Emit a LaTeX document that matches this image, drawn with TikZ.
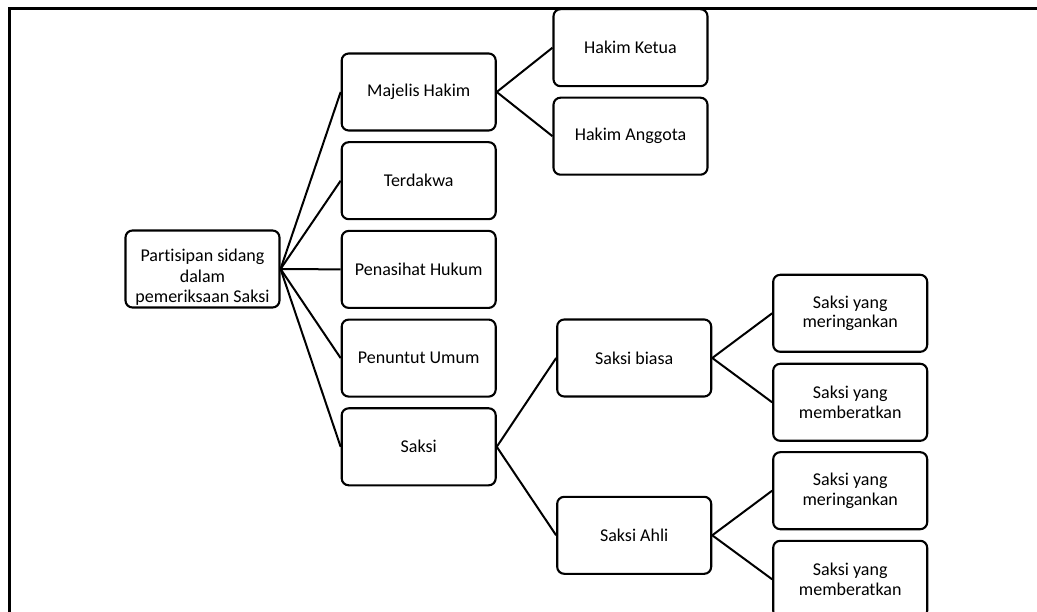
\documentclass[tikz,border=0pt]{standalone}
\usepackage{fontspec}
\setmainfont{Carlito}[Ligatures=NoCommon]
\begin{document}
\begin{tikzpicture}[x=1pt,y=-1pt,
  boxfont/.style={font=\fontsize{18}{19.5}\selectfont},
  box/.style={draw=black, line width=2.1pt, rounded corners=7pt, minimum width=154pt, minimum height=77pt, align=center, inner sep=2pt, boxfont},
  txt/.style={align=center, inner sep=0pt, font=\fontsize{18}{20.5}\selectfont},
  link/.style={draw=black, line width=2pt}]
\useasboundingbox (0,0) rectangle (1037,612);
\draw[line width=2.4pt] (9.3,613) -- (9.3,8.5) -- (1038,8.5);
% level 0
\node[box] (p) at (202.5,269) {};
\node[txt, anchor=base] (pt) at (202.5,302.7) {Partisipan sidang\\dalam\\pemeriksaan Saksi};
% level 1
\node[box] (mh) at (418.7,92) {Majelis Hakim};
\node[box] (td) at (418.7,180.7) {Terdakwa};
\node[box] (ph) at (418.7,269.4) {Penasihat Hukum};
\node[box] (pu) at (418.7,358.1) {Penuntut Umum};
\node[box] (sk) at (418.7,446.8) {Saksi};
% level 2
\node[box] (hk) at (630.5,47.7) {Hakim Ketua};
\node[box] (ha) at (630.5,136.2) {Hakim Anggota};
\node[box] (sb) at (634.2,358) {Saksi biasa};
\node[box] (sa) at (634.2,535.3) {Saksi Ahli};
% level 3
\node[box] (sb1) at (850.2,313.3) {Saksi yang\\meringankan};
\node[box] (sb2) at (850.2,402.3) {Saksi yang\\memberatkan};
\node[box] (sa1) at (850.2,490.7) {Saksi yang\\meringankan};
\node[box] (sa2) at (850.2,579.3) {Saksi yang\\memberatkan};
% connectors
\foreach \t in {mh,td,ph,pu,sk} \draw[link] (p.east) -- (\t.west);
\draw[link] (mh.east) -- (hk.west);
\draw[link] (mh.east) -- (ha.west);
\draw[link] (sk.east) -- (sb.west);
\draw[link] (sk.east) -- (sa.west);
\draw[link] (sb.east) -- (sb1.west);
\draw[link] (sb.east) -- (sb2.west);
\draw[link] (sa.east) -- (sa1.west);
\draw[link] (sa.east) -- (sa2.west);
\end{tikzpicture}
\end{document}
